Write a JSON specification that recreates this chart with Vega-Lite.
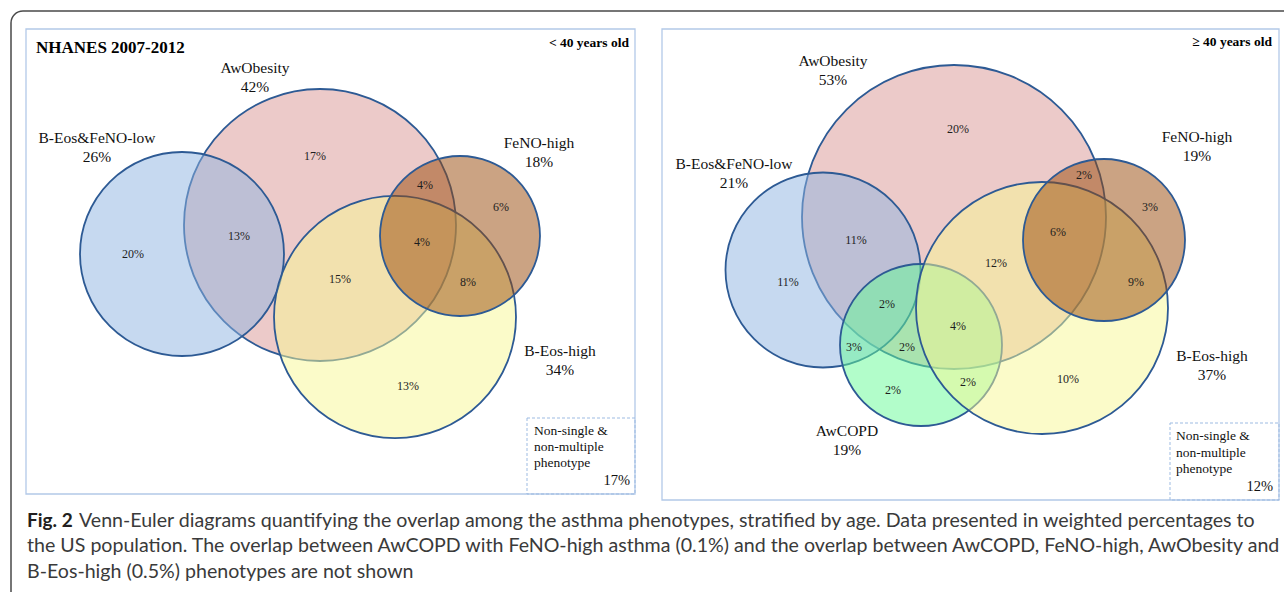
{
  "$schema": "https://vega.github.io/schema/vega-lite/v6.json",
  "width": 1284,
  "height": 592,
  "autosize": "none",
  "padding": 0,
  "background": "white",
  "config": {"view": {"stroke": null}},
  "datasets": {
    "frame": [{"x": 11, "x2": 1320, "y": 11, "y2": 620}],
    "panels": [
      {"panel": "<40", "x": 26, "x2": 635, "y": 29, "y2": 494},
      {"panel": ">=40", "x": 662, "x2": 1279, "y": 29, "y2": 500}
    ],
    "boxes": [
      {"panel": "<40", "x": 527, "x2": 635, "y": 418, "y2": 494},
      {"panel": ">=40", "x": 1170, "x2": 1279, "y": 423, "y2": 500}
    ],
    "circles": [
      {"panel": "<40", "set": "AwObesity", "x": 320, "y": 225, "radius": 136},
      {"panel": "<40", "set": "B-Eos&FeNO-low", "x": 182, "y": 254, "radius": 102},
      {"panel": "<40", "set": "B-Eos-high", "x": 395, "y": 317, "radius": 121},
      {"panel": "<40", "set": "FeNO-high", "x": 460, "y": 236, "radius": 80},
      {"panel": ">=40", "set": "AwObesity", "x": 954, "y": 217, "radius": 152},
      {"panel": ">=40", "set": "B-Eos&FeNO-low", "x": 823, "y": 270, "radius": 97.5},
      {"panel": ">=40", "set": "AwCOPD", "x": 921, "y": 345, "radius": 81},
      {"panel": ">=40", "set": "B-Eos-high", "x": 1042, "y": 308, "radius": 126},
      {"panel": ">=40", "set": "FeNO-high", "x": 1104, "y": 240, "radius": 81}
    ],
    "setlabels": [
      {"panel": "<40", "name": "AwObesity", "pct": "42%", "x": 255, "y": 68},
      {"panel": "<40", "name": "B-Eos&FeNO-low", "pct": "26%", "x": 97, "y": 138},
      {"panel": "<40", "name": "FeNO-high", "pct": "18%", "x": 539, "y": 143},
      {"panel": "<40", "name": "B-Eos-high", "pct": "34%", "x": 560, "y": 351},
      {"panel": ">=40", "name": "AwObesity", "pct": "53%", "x": 833, "y": 61},
      {"panel": ">=40", "name": "B-Eos&FeNO-low", "pct": "21%", "x": 734, "y": 164},
      {"panel": ">=40", "name": "FeNO-high", "pct": "19%", "x": 1197, "y": 137},
      {"panel": ">=40", "name": "B-Eos-high", "pct": "37%", "x": 1212, "y": 356},
      {"panel": ">=40", "name": "AwCOPD", "pct": "19%", "x": 847, "y": 431}
    ],
    "regions": [
      {"panel": "<40", "pct": "20%", "x": 133, "y": 254},
      {"panel": "<40", "pct": "13%", "x": 239, "y": 236},
      {"panel": "<40", "pct": "17%", "x": 315, "y": 156},
      {"panel": "<40", "pct": "4%", "x": 425, "y": 185},
      {"panel": "<40", "pct": "6%", "x": 501, "y": 207},
      {"panel": "<40", "pct": "4%", "x": 422, "y": 242},
      {"panel": "<40", "pct": "15%", "x": 340, "y": 279},
      {"panel": "<40", "pct": "8%", "x": 468, "y": 282},
      {"panel": "<40", "pct": "13%", "x": 408, "y": 386},
      {"panel": ">=40", "pct": "20%", "x": 958, "y": 129},
      {"panel": ">=40", "pct": "11%", "x": 788, "y": 282},
      {"panel": ">=40", "pct": "11%", "x": 856, "y": 240},
      {"panel": ">=40", "pct": "2%", "x": 1084, "y": 175},
      {"panel": ">=40", "pct": "3%", "x": 1150, "y": 207},
      {"panel": ">=40", "pct": "6%", "x": 1058, "y": 232},
      {"panel": ">=40", "pct": "12%", "x": 996, "y": 263},
      {"panel": ">=40", "pct": "9%", "x": 1136, "y": 282},
      {"panel": ">=40", "pct": "2%", "x": 887, "y": 304},
      {"panel": ">=40", "pct": "3%", "x": 854, "y": 347},
      {"panel": ">=40", "pct": "2%", "x": 907, "y": 347},
      {"panel": ">=40", "pct": "2%", "x": 893, "y": 390},
      {"panel": ">=40", "pct": "4%", "x": 958, "y": 326},
      {"panel": ">=40", "pct": "2%", "x": 968, "y": 382},
      {"panel": ">=40", "pct": "10%", "x": 1068, "y": 379}
    ],
    "title": [{"text": "NHANES 2007-2012", "x": 36, "y": 48}],
    "ages": [
      {"text": "< 40 years old", "x": 629, "y": 43},
      {"text": "≥ 40 years old", "x": 1272, "y": 42}
    ],
    "boxlines": [
      {"text": "Non-single &", "x": 534, "y": 431},
      {"text": "non-multiple", "x": 534, "y": 447},
      {"text": "phenotype", "x": 534, "y": 463},
      {"text": "Non-single &", "x": 1176, "y": 436},
      {"text": "non-multiple", "x": 1176, "y": 453},
      {"text": "phenotype", "x": 1176, "y": 469}
    ],
    "boxpct": [
      {"text": "17%", "x": 630, "y": 481},
      {"text": "12%", "x": 1273, "y": 487}
    ],
    "capbold": [{"text": "Fig. 2", "x": 27, "y": 521}],
    "caption": [
      {"text": "Venn-Euler diagrams quantifying the overlap among the asthma phenotypes, stratified by age. Data presented in weighted percentages to", "x": 79, "y": 521},
      {"text": "the US population. The overlap between AwCOPD with FeNO-high asthma (0.1%) and the overlap between AwCOPD, FeNO-high, AwObesity and", "x": 27, "y": 546},
      {"text": "B-Eos-high (0.5%) phenotypes are not shown", "x": 27, "y": 572}
    ]
  },
  "layer": [
    {
      "data": {"name": "frame"},
      "mark": {"type": "rect", "fill": null, "stroke": "#4a4a4a", "strokeWidth": 1.5, "cornerRadius": 12},
      "encoding": {
        "x": {"field": "x", "type": "quantitative", "scale": {"domain": [0, 1284], "nice": false, "zero": false}, "axis": null},
        "x2": {"field": "x2"},
        "y": {"field": "y", "type": "quantitative", "scale": {"domain": [0, 592], "reverse": true, "nice": false, "zero": false}, "axis": null},
        "y2": {"field": "y2"}
      }
    },
    {
      "data": {"name": "panels"},
      "mark": {"type": "rect", "fill": null, "stroke": "#b3c9e8", "strokeWidth": 1.3},
      "encoding": {
        "x": {"field": "x", "type": "quantitative", "axis": null},
        "x2": {"field": "x2"},
        "y": {"field": "y", "type": "quantitative", "axis": null},
        "y2": {"field": "y2"}
      }
    },
    {
      "data": {"name": "boxes"},
      "mark": {"type": "rect", "fill": null, "stroke": "#9dbbe2", "strokeWidth": 1, "strokeDash": [3, 2]},
      "encoding": {
        "x": {"field": "x", "type": "quantitative", "axis": null},
        "x2": {"field": "x2"},
        "y": {"field": "y", "type": "quantitative", "axis": null},
        "y2": {"field": "y2"}
      }
    },
    {
      "data": {"name": "circles"},
      "mark": {"type": "point", "shape": "circle", "filled": true, "opacity": 1, "fillOpacity": 0.5, "stroke": "#2d5a94", "strokeWidth": 1.8, "strokeOpacity": 1},
      "encoding": {
        "x": {"field": "x", "type": "quantitative", "axis": null},
        "y": {"field": "y", "type": "quantitative", "axis": null},
        "size": {"field": "radius", "type": "quantitative", "scale": {"type": "pow", "exponent": 2, "domain": [0, 100], "range": [0, 40000], "zero": true}, "legend": null},
        "color": {"field": "set", "type": "nominal", "scale": {"domain": ["AwObesity", "B-Eos&FeNO-low", "B-Eos-high", "FeNO-high", "AwCOPD"], "range": ["#d99694", "#8db3e2", "#f7f793", "#984807", "#66fc96"]}, "legend": null}
      }
    },
    {
      "data": {"name": "regions"},
      "mark": {"type": "text", "font": "Liberation Serif", "fontSize": 12, "color": "#1e1e1e", "align": "center", "baseline": "middle"},
      "encoding": {
        "x": {"field": "x", "type": "quantitative", "axis": null},
        "y": {"field": "y", "type": "quantitative", "axis": null},
        "text": {"field": "pct", "type": "nominal"}
      }
    },
    {
      "data": {"name": "setlabels"},
      "mark": {"type": "text", "font": "Liberation Serif", "fontSize": 15.5, "color": "#111", "align": "center", "baseline": "middle"},
      "encoding": {
        "x": {"field": "x", "type": "quantitative", "axis": null},
        "y": {"field": "y", "type": "quantitative", "axis": null},
        "text": {"field": "name", "type": "nominal"}
      }
    },
    {
      "data": {"name": "setlabels"},
      "mark": {"type": "text", "font": "Liberation Serif", "fontSize": 15.5, "color": "#111", "align": "center", "baseline": "middle", "dy": 19},
      "encoding": {
        "x": {"field": "x", "type": "quantitative", "axis": null},
        "y": {"field": "y", "type": "quantitative", "axis": null},
        "text": {"field": "pct", "type": "nominal"}
      }
    },
    {
      "data": {"name": "title"},
      "mark": {"type": "text", "font": "Liberation Serif", "fontSize": 17, "fontWeight": "bold", "color": "#000", "align": "left", "baseline": "middle"},
      "encoding": {
        "x": {"field": "x", "type": "quantitative", "axis": null},
        "y": {"field": "y", "type": "quantitative", "axis": null},
        "text": {"field": "text", "type": "nominal"}
      }
    },
    {
      "data": {"name": "ages"},
      "mark": {"type": "text", "font": "Liberation Serif", "fontSize": 13.5, "fontWeight": "bold", "color": "#000", "align": "right", "baseline": "middle"},
      "encoding": {
        "x": {"field": "x", "type": "quantitative", "axis": null},
        "y": {"field": "y", "type": "quantitative", "axis": null},
        "text": {"field": "text", "type": "nominal"}
      }
    },
    {
      "data": {"name": "boxlines"},
      "mark": {"type": "text", "font": "Liberation Serif", "fontSize": 13.5, "color": "#111", "align": "left", "baseline": "middle"},
      "encoding": {
        "x": {"field": "x", "type": "quantitative", "axis": null},
        "y": {"field": "y", "type": "quantitative", "axis": null},
        "text": {"field": "text", "type": "nominal"}
      }
    },
    {
      "data": {"name": "boxpct"},
      "mark": {"type": "text", "font": "Liberation Serif", "fontSize": 14.5, "color": "#111", "align": "right", "baseline": "middle"},
      "encoding": {
        "x": {"field": "x", "type": "quantitative", "axis": null},
        "y": {"field": "y", "type": "quantitative", "axis": null},
        "text": {"field": "text", "type": "nominal"}
      }
    },
    {
      "data": {"name": "capbold"},
      "mark": {"type": "text", "font": "Lato", "fontSize": 19, "fontWeight": "bold", "color": "#231f20", "align": "left", "baseline": "middle"},
      "encoding": {
        "x": {"field": "x", "type": "quantitative", "axis": null},
        "y": {"field": "y", "type": "quantitative", "axis": null},
        "text": {"field": "text", "type": "nominal"}
      }
    },
    {
      "data": {"name": "caption"},
      "mark": {"type": "text", "font": "Lato", "fontSize": 19.6, "color": "#3a3a3a", "align": "left", "baseline": "middle"},
      "encoding": {
        "x": {"field": "x", "type": "quantitative", "axis": null},
        "y": {"field": "y", "type": "quantitative", "axis": null},
        "text": {"field": "text", "type": "nominal"}
      }
    }
  ]
}
